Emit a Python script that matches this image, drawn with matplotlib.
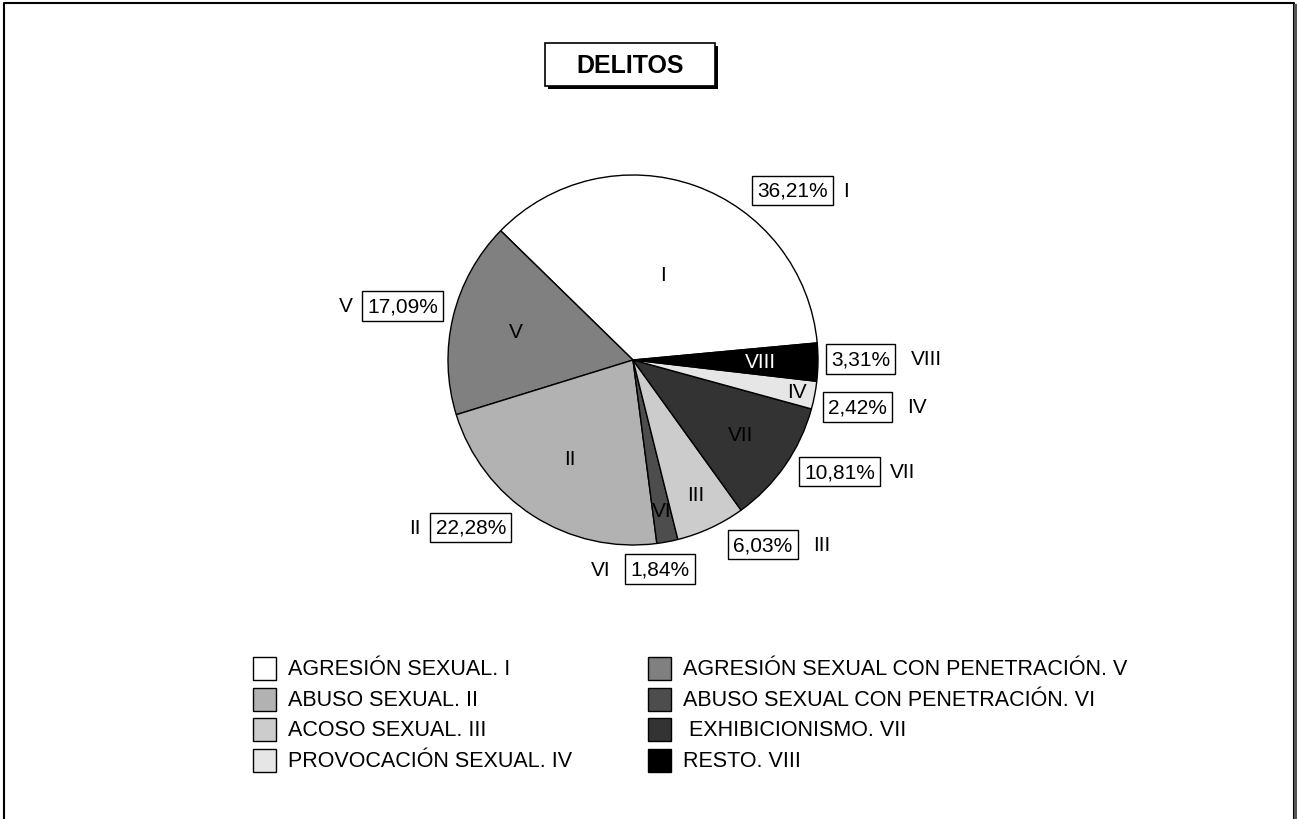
import numpy as np
import matplotlib.pyplot as plt
from matplotlib.patches import Rectangle

plt.rcParams["font.family"] = ["Liberation Sans", "DejaVu Sans"]

# slices in drawing order (counter-clockwise)
romans = ["I", "V", "II", "VI", "III", "VII", "IV", "VIII"]
values = [36.21, 17.09, 22.28, 1.84, 6.03, 10.81, 2.42, 3.31]
colors = ["#ffffff", "#808080", "#b2b2b2", "#4d4d4d", "#cccccc",
          "#333333", "#e6e6e6", "#000000"]

# legend (left column then right column)
leg_names = ["AGRESIÓN SEXUAL", "ABUSO SEXUAL", "ACOSO SEXUAL",
             "PROVOCACIÓN SEXUAL", "AGRESIÓN SEXUAL CON PENETRACIÓN",
             "ABUSO SEXUAL CON PENETRACIÓN", " EXHIBICIONISMO", "RESTO"]
leg_romans = ["I", "II", "III", "IV", "V", "VI", "VII", "VIII"]

W, H = 1297, 820
cx, cy, R = 633, H - 361, 185

# label layout: inner label radius (fraction), outer box (angle deg, radius fraction),
# side of the roman numeral next to the box
inner_r = [0.49, 0.65, 0.63, 0.83, 0.80, 0.71, 0.90, 0.69]
box_pos = [(46.7, 1.26), (166.8, 1.28), (225.9, 1.26), (277.4, 1.14),
           (305.1, 1.22), (331.6, 1.27), (348.2, 1.24), (0.3, 1.23)]
sides = ["r", "l", "l", "l", "r", "r", "r", "r"]

fig = plt.figure(figsize=(W / 100, H / 100), dpi=100)
ax = fig.add_axes([0, 0, 1, 1])

wedges, _ = ax.pie(values, colors=colors, startangle=5.3, counterclock=True,
                   radius=R, center=(cx, cy),
                   wedgeprops=dict(edgecolor="black", linewidth=1.0))

for w, rom, col, fr, (ang, bf), sd in zip(wedges, romans, colors, inner_r,
                                           box_pos, sides):
    mid = np.deg2rad((w.theta1 + w.theta2) / 2)
    tc = "white" if col == "#000000" else "black"
    ax.text(cx + fr * R * np.cos(mid), cy + fr * R * np.sin(mid), rom,
            ha="center", va="center", fontsize=15, color=tc)
    a = np.deg2rad(ang)
    bx, by = cx + bf * R * np.cos(a), cy + bf * R * np.sin(a)
    pct = f"{values[romans.index(rom)]:.2f}".replace(".", ",") + "%"
    ax.text(bx, by, pct, ha="center", va="center", fontsize=15,
            bbox=dict(boxstyle="square,pad=0.25", fc="white", ec="black",
                      lw=1.0))
    if sd == "r":
        ax.text(bx + 50, by, rom, ha="left", va="center", fontsize=15)
    else:
        ax.text(bx - 50, by, rom, ha="right", va="center", fontsize=15)

# title box with shadow
ax.add_patch(Rectangle((548, H - 90), 170, 43, fc="black", ec="none"))
ax.add_patch(Rectangle((545, H - 87), 170, 43, fc="white", ec="black", lw=1.2))
ax.text(630, H - 66, "DELITOS", ha="center", va="center", fontsize=18,
        fontweight="bold")

# legend
leg_cols = {"I": "#ffffff", "II": "#b2b2b2", "III": "#cccccc", "IV": "#e6e6e6",
            "V": "#808080", "VI": "#4d4d4d", "VII": "#333333", "VIII": "#000000"}
for i, (name, rom) in enumerate(zip(leg_names, leg_romans)):
    col_x = 253 if i < 4 else 648
    row_y = H - (669.5 + 30.6 * (i % 4))
    ax.add_patch(Rectangle((col_x, row_y - 11.5), 23, 23,
                           fc=leg_cols[rom], ec="black", lw=1.0))
    ax.text(col_x + 35, row_y, f"{name}. {rom}", ha="left", va="center",
            fontsize=15.5)

# outer frame
ax.plot([4, 4, 1294, 1294], [0, H - 4, H - 4, 0], color="black", lw=1.5)
ax.plot([1296, 1296], [0, H - 7], color="#555555", lw=3)

ax.set_xlim(0, W)
ax.set_ylim(0, H)
ax.set_aspect("equal")
ax.axis("off")

fig.savefig("out.png", dpi=100)
